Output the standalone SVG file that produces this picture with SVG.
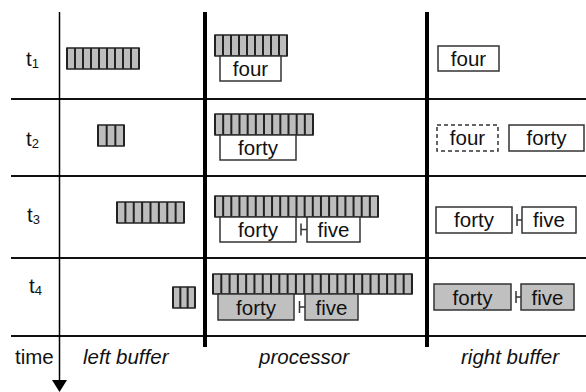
<svg xmlns="http://www.w3.org/2000/svg" width="586" height="392" viewBox="0 0 586 392">
<style>
text{font-family:"Liberation Sans",Arial,sans-serif;fill:#111}
.lbl{font-size:20.5px}
.it{font-size:20.5px;font-style:italic}
.bt{font-size:20.5px;text-anchor:middle}
.sub{font-size:13px}
.bar{fill:#bdbdbd;stroke:#222;stroke-width:1.5}
.box{fill:#fff;stroke:#333;stroke-width:1.5}
.gbox{fill:#c0c0c0;stroke:#333;stroke-width:1.5}
.dbox{fill:#fff;stroke:#333;stroke-width:1.5;stroke-dasharray:4 3}
.grid{stroke:#111;stroke-width:2}
.thick{stroke:#000;stroke-width:4}
.conn{stroke:#333;stroke-width:1.5;fill:none}
</style>
<rect width="586" height="392" fill="#fff"/>
<g id="grid">
<line class="grid" x1="11" y1="99" x2="586" y2="99"/>
<line class="grid" x1="11" y1="176" x2="586" y2="176"/>
<line class="grid" x1="11" y1="258" x2="586" y2="258"/>
<line class="grid" x1="11" y1="336" x2="586" y2="336"/>
<line class="thick" x1="205" y1="12" x2="205" y2="347"/>
<line class="thick" x1="427" y1="12" x2="427" y2="347"/>
<line stroke="#000" stroke-width="1.5" x1="59.5" y1="12" x2="59.5" y2="381"/>
<polygon points="52,380 67,380 59.5,392" fill="#000"/>
</g>
<g id="labels">
<text class="lbl" x="26" y="66">t<tspan class="sub" dy="2">1</tspan></text>
<text class="lbl" x="26" y="146">t<tspan class="sub" dy="2">2</tspan></text>
<text class="lbl" x="27" y="222">t<tspan class="sub" dy="2">3</tspan></text>
<text class="lbl" x="29" y="293">t<tspan class="sub" dy="2">4</tspan></text>
<text class="lbl" x="15" y="364">time</text>
<text class="it" x="83" y="364">left buffer</text>
<text class="it" x="259" y="364">processor</text>
<text class="it" x="461" y="364">right buffer</text>
</g>
<g id="left-buffer">
<rect class="bar" x="67" y="48" width="72" height="21"/>
<line x1="66" y1="58.5" x2="140" y2="58.5" stroke="#222" stroke-width="21" stroke-dasharray="2 6"/>
<rect class="bar" x="98" y="125" width="26" height="21"/>
<line x1="97" y1="135.5" x2="125" y2="135.5" stroke="#222" stroke-width="21" stroke-dasharray="2 6.67"/>
<rect class="bar" x="117" y="202" width="67" height="21"/>
<line x1="116" y1="212.5" x2="185" y2="212.5" stroke="#222" stroke-width="21" stroke-dasharray="2 6.375"/>
<rect class="bar" x="173" y="287" width="22" height="21"/>
<line x1="172" y1="297.5" x2="196" y2="297.5" stroke="#222" stroke-width="21" stroke-dasharray="2 5.33"/>
</g>
<g id="processor">
<rect class="bar" x="215" y="35" width="72" height="21"/>
<line x1="214" y1="45.5" x2="288" y2="45.5" stroke="#222" stroke-width="21" stroke-dasharray="2 6"/>
<rect class="box" x="220" y="56" width="61" height="25"/>
<text class="bt" x="250.5" y="76">four</text>
<rect class="bar" x="215" y="114" width="98" height="21"/>
<line x1="214" y1="124.5" x2="314" y2="124.5" stroke="#222" stroke-width="21" stroke-dasharray="2 6.167"/>
<rect class="box" x="220" y="135" width="76" height="25"/>
<text class="bt" x="258" y="155">forty</text>
<rect class="bar" x="215" y="196" width="163" height="21"/>
<line x1="214" y1="206.5" x2="379" y2="206.5" stroke="#222" stroke-width="21" stroke-dasharray="2 6.15"/>
<rect class="box" x="220" y="217" width="76" height="25"/>
<text class="bt" x="258" y="237">forty</text>
<rect class="box" x="307" y="217" width="53" height="25"/>
<text class="bt" x="333.5" y="237">five</text>
<rect class="bar" x="213" y="274" width="199" height="20"/>
<line x1="212" y1="284" x2="413" y2="284" stroke="#222" stroke-width="20" stroke-dasharray="2 6.29"/>
<rect class="gbox" x="218" y="294" width="76" height="26"/>
<text class="bt" x="256" y="315">forty</text>
<rect class="gbox" x="305" y="294" width="53" height="26"/>
<text class="bt" x="331.5" y="315">five</text>
</g>
<g id="right-buffer">
<rect class="box" x="438" y="46" width="61" height="25"/>
<text class="bt" x="468.5" y="66">four</text>
<rect class="dbox" x="437" y="125" width="61" height="26"/>
<text class="bt" x="467.5" y="145">four</text>
<rect class="box" x="509" y="125" width="75" height="26"/>
<text class="bt" x="546.5" y="145">forty</text>
<rect class="box" x="436" y="207" width="76" height="26"/>
<text class="bt" x="474" y="227">forty</text>
<rect class="box" x="522" y="207" width="54" height="26"/>
<text class="bt" x="549" y="227">five</text>
<rect class="gbox" x="434" y="284" width="77" height="26"/>
<text class="bt" x="472.5" y="305">forty</text>
<rect class="gbox" x="521" y="284" width="53" height="26"/>
<text class="bt" x="547.5" y="305">five</text>
</g>
<g id="connectors">
<path class="conn" d="M301,229.5 H307 M301,223.5 V235.5"/>
<path class="conn" d="M299.5,307 H305 M299.5,301 V313"/>
<path class="conn" d="M517,220 H522 M517,214 V226"/>
<path class="conn" d="M516,297 H521 M516,291 V303"/>
</g>
</svg>
